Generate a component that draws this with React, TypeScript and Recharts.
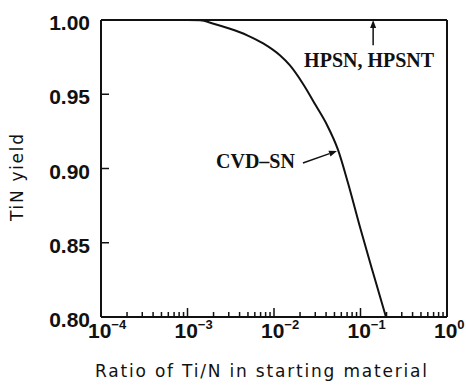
import { LineChart, Line, XAxis, YAxis, ReferenceLine } from 'recharts';

// TiN yield vs Ti/N ratio
const RATIO = [0.0001, 0.001, 0.0014, 0.002, 0.0031, 0.0049, 0.0075, 0.0117, 0.0153, 0.0216, 0.0306, 0.041, 0.055, 0.0717, 0.0986, 0.14, 0.197];
const TIN_YIELD = [1.0, 1.0, 0.9998, 0.9975, 0.9941, 0.9897, 0.9842, 0.9762, 0.9694, 0.9571, 0.9422, 0.9293, 0.9125, 0.8902, 0.8606, 0.8296, 0.8];

const X_MAJOR = [0.0001, 0.001, 0.01, 0.1, 1];
const X_MINOR_STEPS = [2, 3, 4, 5, 6, 7, 8, 9];
const Y_TICKS = [0.8, 0.85, 0.9, 0.95, 1.0];

const HPSN_ARROW = [{ x: 0.14, y: 0.983 }, { x: 0.14, y: 1.0 }];
const CVD_ARROW = [{ x: 0.0216, y: 0.9037 }, { x: 0.0535, y: 0.9118 }];

const INK = '#111';
const TICK_FONT = '"Liberation Sans", Arial, sans-serif';
const TITLE_FONT = '"DejaVu Sans", sans-serif';
const NOTE_FONT = '"Liberation Serif", "Times New Roman", serif';

const data = RATIO.map((r, i) => ({ ratio: r, tin: TIN_YIELD[i] }));
const xTicks = X_MAJOR.flatMap((d, i) => (i < X_MAJOR.length - 1 ? [d, ...X_MINOR_STEPS.map((s) => d * s)] : [d]));

const isMajor = (v: number) => X_MAJOR.some((m) => Math.abs(v / m - 1) < 1e-6);

function XTick({ x, y, payload }: any) {
  const v = payload.value;
  const major = isMajor(v);
  const exp = Math.round(Math.log10(v));
  const inner = v > 0.00011 && v < 0.99;
  return (
    <g>
      {inner ? <line x1={x} x2={x} y1={y} y2={y - (major ? 9 : 5)} stroke={INK} strokeWidth={1.5} /> : null}
      {major ? (
        <text x={x - 13} y={y + 21} fontFamily={TICK_FONT} fontWeight="bold" fontSize={21} fill={INK}>
          10
          <tspan dy={-9} fontSize={13}>{exp < 0 ? '\u2212' + Math.abs(exp) : String(exp)}</tspan>
        </text>
      ) : null}
    </g>
  );
}

function YTick({ x, y, payload }: any) {
  const v = payload.value;
  const inner = v > 0.801 && v < 0.999;
  return (
    <g>
      {inner ? <line x1={x} x2={x + 8} y1={y} y2={y} stroke={INK} strokeWidth={1.5} /> : null}
      <text x={x - 11} y={y + 10} textAnchor="end" fontFamily={TICK_FONT} fontWeight="bold" fontSize={21} fill={INK}>
        {v.toFixed(2)}
      </text>
    </g>
  );
}

function arrowShape(label: string, place: (x1: number, y1: number) => { x: number; y: number; anchor: string }) {
  return (props: any) => {
    const { x1, y1, x2, y2 } = props;
    const len = Math.hypot(x2 - x1, y2 - y1) || 1;
    const ux = (x2 - x1) / len;
    const uy = (y2 - y1) / len;
    const hl = 8;
    const hw = 3;
    const bx = x2 - ux * hl;
    const by = y2 - uy * hl;
    const t = place(x1, y1);
    return (
      <g>
        <line x1={x1} y1={y1} x2={bx} y2={by} stroke={INK} strokeWidth={1.5} />
        <polygon points={`${x2},${y2} ${bx - uy * hw},${by + ux * hw} ${bx + uy * hw},${by - ux * hw}`} fill={INK} />
        <text x={t.x} y={t.y} textAnchor={t.anchor as any} fontFamily={NOTE_FONT} fontWeight="bold" fontSize={20} fill={INK}>
          {label}
        </text>
      </g>
    );
  };
}

export default function App() {
  return (
    <div style={{ position: 'absolute', left: 0, top: 0, background: '#fff' }}>
      <LineChart width={466} height={385} data={data} margin={{ top: 20, right: 19, left: 0, bottom: 0 }}>
        <XAxis
          dataKey="ratio"
          type="number"
          scale="log"
          domain={[0.0001, 1]}
          ticks={xTicks}
          interval={0}
          tick={<XTick />}
          tickLine={false}
          tickSize={0}
          tickMargin={0}
          height={68}
          axisLine={{ stroke: INK, strokeWidth: 2 }}
          label={{
            content: ({ viewBox }: any) => (
              <text
                x={viewBox.x + viewBox.width / 2 - 13}
                y={viewBox.y + 60}
                textAnchor="middle"
                fontFamily={TITLE_FONT}
                fontSize={17}
                textLength={332}
                lengthAdjust="spacing"
                fill={INK}
              >
                Ratio of Ti/N in starting material
              </text>
            ),
          }}
        />
        <YAxis
          type="number"
          domain={[0.8, 1.0]}
          ticks={Y_TICKS}
          interval={0}
          tick={<YTick />}
          tickLine={false}
          tickSize={0}
          tickMargin={0}
          width={101}
          axisLine={{ stroke: INK, strokeWidth: 2 }}
          label={{
            content: ({ viewBox }: any) => {
              const cx = viewBox.x + 17;
              const cy = viewBox.y + viewBox.height / 2 + 9;
              return (
                <text
                  x={cx}
                  y={cy}
                  transform={`rotate(-90 ${cx} ${cy})`}
                  textAnchor="middle"
                  dominantBaseline="central"
                  fontFamily={TITLE_FONT}
                  fontSize={17}
                  textLength={87}
                  lengthAdjust="spacing"
                  fill={INK}
                >
                  TiN yield
                </text>
              );
            },
          }}
        />
        <ReferenceLine y={1.0} stroke={INK} strokeWidth={2} />
        <ReferenceLine x={1} stroke={INK} strokeWidth={2} />
        <Line
          dataKey="tin"
          type="monotone"
          stroke={INK}
          strokeWidth={2}
          dot={false}
          isAnimationActive={false}
        />
        <ReferenceLine
          segment={HPSN_ARROW}
          shape={arrowShape('HPSN, HPSNT', (x1, y1) => ({ x: x1 - 4, y: y1 + 22, anchor: 'middle' }))}
        />
        <ReferenceLine
          segment={CVD_ARROW}
          shape={arrowShape('CVD\u2013SN', (x1, y1) => ({ x: x1 - 8, y: y1 + 5, anchor: 'end' }))}
        />
      </LineChart>
    </div>
  );
}
